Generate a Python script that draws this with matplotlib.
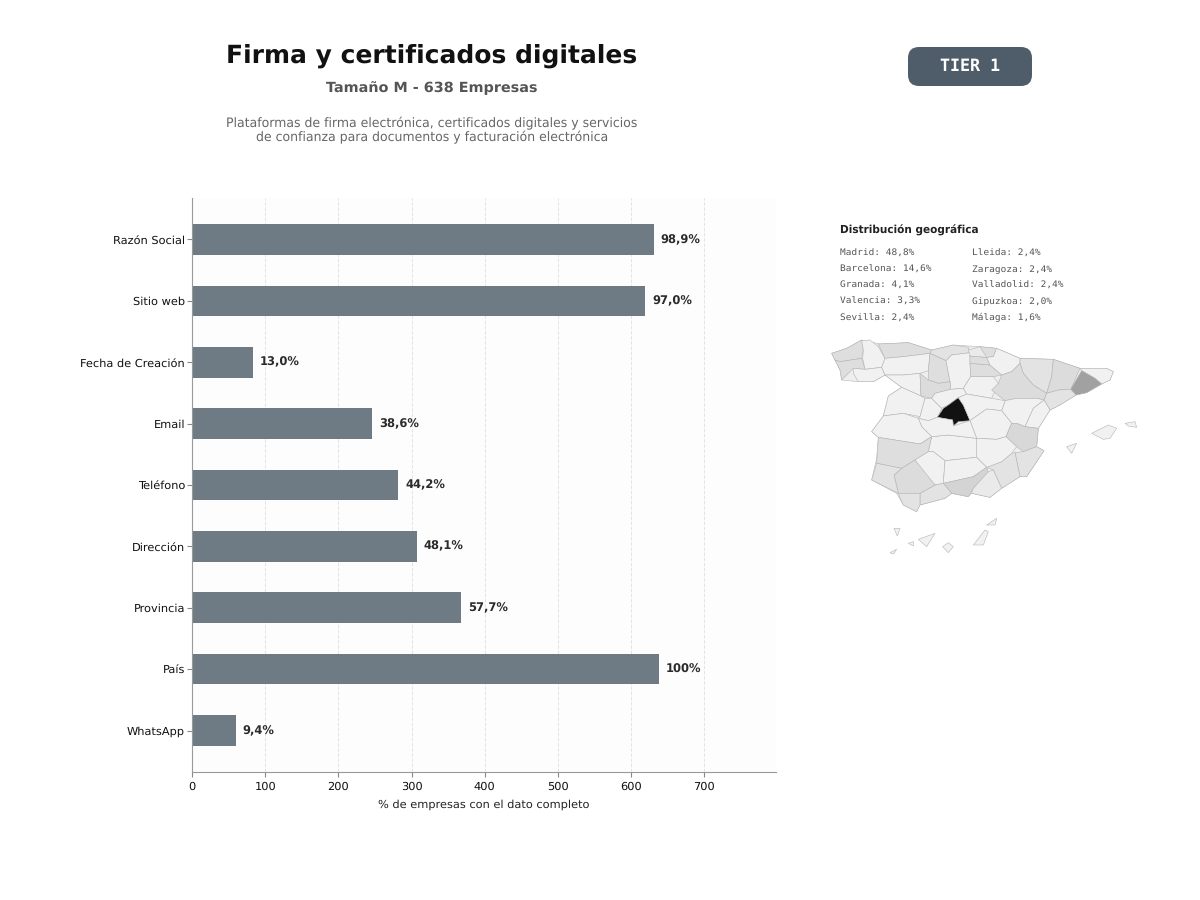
import numpy as np
import matplotlib
matplotlib.use("Agg")
import matplotlib.pyplot as plt
from matplotlib.patches import FancyBboxPatch, Polygon

plt.rcParams["text.hinting"] = "no_hinting"
plt.rcParams["text.hinting_factor"] = 8

categories = ["Razón Social", "Sitio web", "Fecha de Creación", "Email", "Teléfono",
              "Dirección", "Provincia", "País", "WhatsApp"]
counts = [631, 619, 83, 246, 282, 307, 368, 638, 60]
bar_labels = ["98,9%", "97,0%", "13,0%", "38,6%", "44,2%", "48,1%", "57,7%", "100%", "9,4%"]
x_ticks = [0, 100, 200, 300, 400, 500, 600, 700]
geo_left = ["Madrid: 48,8%", "Barcelona: 14,6%", "Granada: 4,1%", "Valencia: 3,3%", "Sevilla: 2,4%"]
geo_right = ["Lleida: 2,4%", "Zaragoza: 2,4%", "Valladolid: 2,4%", "Gipuzkoa: 2,0%", "Málaga: 1,6%"]

# outline of the mainland, under the provinces
mainland = [(35,70),(80,55),(125,30),(180,42),(265,38),(335,60),(400,45),(480,50),(530,55),(600,85),
            (700,88),(780,115),(860,115),(880,125),(870,150),(845,162),(800,188),(768,195),(720,225),
            (690,240),(655,295),(650,350),(672,362),(620,440),(600,440),(545,475),(510,502),(455,490),
            (445,500),(395,490),(375,505),(300,525),(290,545),(250,525),(230,490),(155,450),(170,385),
            (175,322),(155,305),(190,258),(205,198),(245,172),(215,150),(195,135),(160,155),(115,155),(65,150),
            (60,120),(45,90)]

# province outline and its estimated share of companies, %
provinces = {
    "A Coruña": (2.0, [(35,70),(80,55),(125,30),(130,60),(125,85),(60,95),(45,90)]),
    "Lugo": (0.4, [(125,32),(150,30),(175,50),(195,85),(185,112),(135,118),(128,85),(130,60)]),
    "Pontevedra": (2.0, [(45,90),(60,95),(125,85),(135,118),(100,115),(65,150),(60,120)]),
    "Ourense": (0.4, [(100,115),(135,118),(185,112),(195,135),(160,155),(115,155),(100,130)]),
    "Asturias": (2.0, [(175,42),(265,38),(335,60),(330,70),(250,80),(195,85)]),
    "Cantabria": (1.6, [(335,60),(400,45),(445,52),(450,68),(395,75),(378,92),(330,70)]),
    "León": (0.4, [(195,85),(250,80),(330,70),(325,122),(300,130),(250,135),(195,135),(185,112)]),
    "Palencia": (2.0, [(330,70),(378,92),(390,155),(355,160),(325,150),(325,122)]),
    "Burgos": (0.4, [(378,92),(395,75),(450,68),(450,100),(452,140),(430,175),(392,178),(390,155)]),
    "Zamora": (0.4, [(195,135),(250,135),(300,130),(303,198),(245,172),(215,150)]),
    "Valladolid": (2.4, [(300,130),(325,150),(355,160),(390,155),(392,178),(345,190),(335,205),(303,198)]),
    "Salamanca": (0.4, [(205,198),(245,172),(303,198),(315,205),(300,260),(250,250),(190,258)]),
    "Ávila": (0.4, [(315,205),(335,205),(365,235),(352,262),(325,272),(295,265),(300,260)]),
    "Segovia": (0.4, [(335,205),(345,190),(392,178),(430,175),(440,192),(415,203),(385,225),(365,235)]),
    "Soria": (0.4, [(430,175),(452,140),(520,140),(535,160),(515,205),(440,192)]),
    "Madrid": (48.8, [(415,203),(430,225),(450,272),(415,275),(400,288),(398,270),(352,262),(370,235),(385,225)]),
    "La Rioja": (2.0, [(450,100),(510,105),(545,135),(520,140),(452,140)]),
    "Álava": (2.0, [(450,78),(500,82),(510,105),(450,100)]),
    "Bizkaia": (1.0, [(445,60),(480,50),(495,68),(500,82),(450,78)]),
    "Gipuzkoa": (2.0, [(480,50),(530,55),(520,80),(500,82)]),
    "Navarra": (0.4, [(530,55),(600,85),(600,100),(575,125),(545,135),(510,105),(500,82),(520,80)]),
    "Huesca": (1.6, [(600,85),(700,88),(695,140),(680,190),(640,165),(610,130),(600,100)]),
    "Zaragoza": (2.4, [(575,125),(600,100),(610,130),(640,165),(680,190),(672,210),(650,205),(590,205),(555,212),(515,180),(535,160),(545,135)]),
    "Teruel": (0.4, [(555,212),(590,205),(650,205),(672,210),(640,235),(615,290),(590,280),(575,280),(545,242)]),
    "Guadalajara": (0.4, [(440,192),(515,205),(555,212),(545,242),(500,237),(450,272),(430,225),(415,203)]),
    "Cuenca": (0.4, [(450,272),(500,237),(545,242),(575,280),(558,320),(530,328),(470,325)]),
    "Lleida": (2.4, [(700,88),(780,115),(752,178),(715,180),(680,190),(695,140)]),
    "Girona": (0.4, [(780,115),(860,115),(880,125),(870,150),(845,162),(825,145),(785,122)]),
    "Barcelona": (14.6, [(785,122),(825,145),(845,162),(800,188),(768,195),(752,178)]),
    "Tarragona": (1.6, [(680,190),(715,180),(752,178),(768,195),(720,225),(690,240),(672,210)]),
    "Castellón": (0.4, [(672,210),(690,240),(655,295),(615,290),(640,235)]),
    "Valencia": (3.3, [(575,280),(590,280),(615,290),(655,295),(650,350),(610,365),(590,350),(558,320)]),
    "Alicante": (1.6, [(650,350),(672,362),(620,440),(600,440),(585,368),(610,365)]),
    "Murcia": (1.6, [(585,368),(600,440),(545,475),(520,420),(500,412),(545,395),(575,370)]),
    "Albacete": (0.4, [(470,325),(530,328),(558,320),(590,350),(575,370),(545,395),(500,412),(470,382)]),
    "Ciudad Real": (0.4, [(335,320),(385,315),(470,325),(470,382),(375,392),(340,365),(325,365)]),
    "Toledo": (0.4, [(295,265),(325,272),(352,262),(398,270),(400,288),(450,272),(470,325),(385,315),(335,320),(305,290)]),
    "Cáceres": (0.4, [(190,258),(250,250),(295,265),(305,290),(335,320),(300,342),(175,322),(155,305)]),
    "Badajoz": (2.0, [(175,322),(300,342),(335,320),(325,365),(285,390),(245,415),(170,400)]),
    "Córdoba": (0.4, [(285,390),(325,365),(340,365),(375,392),(370,460),(345,465),(305,425)]),
    "Jaén": (0.4, [(375,392),(470,382),(500,412),(460,440),(370,460)]),
    "Granada": (4.1, [(370,460),(460,440),(500,412),(505,430),(460,475),(445,500),(395,490)]),
    "Almería": (1.0, [(505,425),(520,420),(545,475),(510,502),(455,490),(460,475)]),
    "Málaga": (1.6, [(300,525),(300,490),(345,465),(370,460),(395,490),(375,505)]),
    "Sevilla": (2.4, [(245,415),(285,390),(345,465),(300,490),(235,490),(222,435)]),
    "Huelva": (1.6, [(170,400),(245,415),(222,435),(235,490),(155,450)]),
    "Cádiz": (1.6, [(235,490),(300,490),(300,525),(290,545),(250,525)]),
    "Mallorca": (0.4, [(815,310),(865,285),(890,295),(870,325),(850,328)]),
    "Menorca": (0.4, [(915,280),(945,275),(950,292),(925,288)]),
    "Ibiza": (0.4, [(740,350),(770,340),(755,370)]),
    "Tenerife": (0.4, [(295,628),(345,610),(320,650)]),
    "Gran Canaria": (0.4, [(368,650),(385,638),(400,650),(385,668)]),
    "Lanzarote": (0.4, [(500,585),(530,565),(525,585)]),
    "Fuerteventura": (0.4, [(460,645),(495,600),(505,605),(490,645)]),
    "La Gomera": (0.4, [(265,640),(280,635),(280,648)]),
    "La Palma": (0.4, [(222,595),(240,595),(232,618)]),
    "El Hierro": (0.4, [(210,668),(230,658),(220,672)]),
}

BAR = "#6e7b85"
W, H = 1200, 900
fig = plt.figure(figsize=(12, 9), dpi=100, facecolor="white")

# ---- bars
ax = fig.add_axes([192/W, 1-772/H, (776-192)/W, (772-198)/H], facecolor="#fdfdfd")
y = np.arange(len(categories))
ax.barh(y, counts, height=0.5, color=BAR, zorder=2)
ax.set_ylim(len(categories)-1+0.676, -0.676)
ax.set_xlim(0, 798)
ax.set_yticks(y, categories, fontsize=8.2, color="#111111")
ax.set_xticks(x_ticks)
ax.tick_params(axis="x", labelsize=8.2, color="#888888", length=3.5, labelcolor="#111111")
ax.tick_params(axis="y", color="#888888", length=3.5, pad=1.5)
ax.set_xlabel("% de empresas con el dato completo", fontsize=8.2, color="#222222", labelpad=5)
ax.grid(axis="x", color="#e4e4e4", linestyle="--", linewidth=0.7, zorder=1)
ax.set_axisbelow(True)
for s in ("top", "right"):
    ax.spines[s].set_visible(False)
for s in ("left", "bottom"):
    ax.spines[s].set_color("#999999")
for yi, c, lab in zip(y, counts, bar_labels):
    ax.annotate(lab, (c, yi), xytext=(5, 0), textcoords="offset points", va="center",
                fontsize=8.3, fontweight="bold", color="#2b2b2b")

# ---- header
fig.text(432/W, 1-56/H, "Firma y certificados digitales", ha="center", va="center",
         fontsize=18, fontweight="bold", color="#111111")
fig.text(432/W, 1-88/H, "Tamaño M - 638 Empresas", ha="center", va="center",
         fontsize=10.4, fontweight="bold", color="#555555")
fig.text(432/W, 1-130.5/H, "Plataformas de firma electrónica, certificados digitales y servicios\n"
         "de confianza para documentos y facturación electrónica", ha="center", va="center",
         fontsize=9, color="#666666", linespacing=1.1)

# ---- badge
bg = fig.add_axes([0, 0, 1, 1], facecolor="none", zorder=5)
bg.set_xlim(0, W); bg.set_ylim(H, 0); bg.axis("off")
bg.add_patch(FancyBboxPatch((918, 57), 104, 19, boxstyle="round,pad=10,rounding_size=11",
                            fc="#4f5d6b", ec="#4f5d6b", lw=0))
bg.text(970, 66, "TIER 1", ha="center", va="center", fontsize=12, fontweight="bold",
        family="DejaVu Sans Mono", color="white")

# ---- geographic text
bg.text(840, 230, "Distribución geográfica", va="center", fontsize=7.6, fontweight="bold", color="#222222")
for i, (a, b) in enumerate(zip(geo_left, geo_right)):
    yy = 253 + i*16.2
    bg.text(840, yy, a, va="center", fontsize=6.8, family="DejaVu Sans Mono", color="#555555")
    bg.text(972, yy, b, va="center", fontsize=6.8, family="DejaVu Sans Mono", color="#555555")

# ---- map
m = fig.add_axes([820/W, 1-565/H, 330/W, 235/H], facecolor="none", zorder=4)
m.set_xlim(0, 990); m.set_ylim(705, 0); m.axis("off")
m.add_patch(Polygon(mainland, closed=True, fc="#eeeeee", ec="#b8b8b8", lw=0.4))
for name, (share, pts) in provinces.items():
    g = float(np.interp(share, [0.4, 2.0, 4.1, 14.6, 48.8], [0.945, 0.87, 0.83, 0.63, 0.07]))
    m.add_patch(Polygon(pts, closed=True, fc=(g, g, g), ec="#b4b4b4", lw=0.4, joinstyle="round"))

fig.savefig("out.png", dpi=100)
